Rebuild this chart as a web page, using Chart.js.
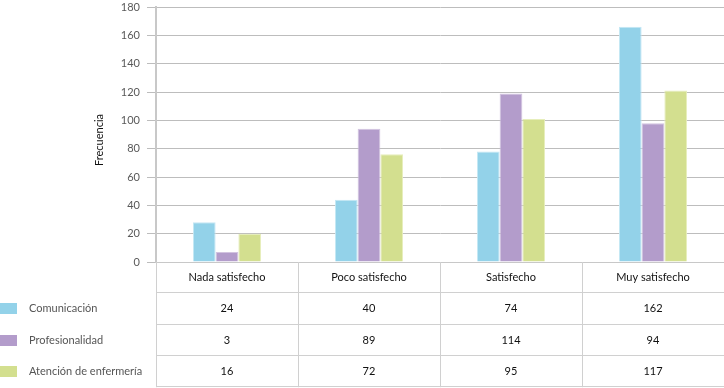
<!DOCTYPE html>
<html>
<head>
<meta charset="utf-8">
<script src="https://cdn.jsdelivr.net/npm/chart.js@4"></script>
<style>
  html, body { margin: 0; padding: 0; background: #fff; }
  #wrap { width: 724px; height: 388px; position: relative; }
</style>
</head>
<body>
<div id="wrap"><canvas id="chart"></canvas></div>
<script>
const categories = ["Nada satisfecho", "Poco satisfecho", "Satisfecho", "Muy satisfecho"];
const seriesNames = ["Comunicación", "Profesionalidad", "Atención de enfermería"];

// bar heights as drawn in the picture
const comunicacion = [28, 44, 78, 166];
const profesionalidad = [7, 94, 119, 98];
const atencion = [20, 76, 101, 121];

// values printed in the data table
const tablaComunicacion = [24, 40, 74, 162];
const tablaProfesionalidad = [3, 89, 114, 94];
const tablaAtencion = [16, 72, 95, 117];

const yTicks = [0, 20, 40, 60, 80, 100, 120, 140, 160, 180];

const colors = ["#93d2e9", "#b39ccb", "#d3df8f"];
const borders = ["#c4e7f4", "#d2c3e0", "#e6eebb"];
const FONT = "Lato, 'Open Sans', sans-serif";

const tableRows = [tablaComunicacion, tablaProfesionalidad, tablaAtencion];

const dataTable = {
  id: "dataTable",
  afterDraw(chart) {
    const ctx = chart.ctx;
    const x = chart.scales.x;
    const area = chart.chartArea;
    const step = x.getPixelForValue(1) - x.getPixelForValue(0);
    const top = area.bottom;
    const rowH = 31.3;
    const bottom = top + rowH * 4;

    ctx.save();
    ctx.strokeStyle = "#d0d0d0";
    ctx.lineWidth = 1;
    // vertical column lines
    for (let i = 0; i <= categories.length; i++) {
      const px = Math.round(x.getPixelForValue(0) - step / 2 + i * step) + 0.5;
      ctx.beginPath();
      ctx.moveTo(px, top);
      ctx.lineTo(px, bottom);
      ctx.stroke();
    }
    // horizontal row lines
    for (let r = 1; r <= 4; r++) {
      const py = Math.round(top + r * rowH) - 0.5;
      ctx.beginPath();
      ctx.moveTo(area.left, py);
      ctx.lineTo(area.right, py);
      ctx.stroke();
    }

    ctx.textAlign = "center";
    ctx.textBaseline = "middle";
    ctx.font = "11px " + FONT;
    ctx.fillStyle = "#111";
    categories.forEach((c, i) => {
      ctx.fillText(c, x.getPixelForValue(i), top + rowH / 2);
    });
    tableRows.forEach((row, r) => {
      row.forEach((v, i) => {
        ctx.fillText(String(v), x.getPixelForValue(i), top + rowH * (r + 1.5));
      });
    });

    // legend keys on the left of the rows
    ctx.textAlign = "left";
    seriesNames.forEach((name, r) => {
      const cy = top + rowH * (r + 1.5);
      ctx.fillStyle = colors[r];
      ctx.fillRect(0, Math.round(cy - 5.5), 17, 11);
      ctx.fillStyle = "#555";
      ctx.fillText(name, 29, cy);
    });

    // axis title
    ctx.save();
    ctx.translate(99, 140);
    ctx.rotate(-Math.PI / 2);
    ctx.textAlign = "center";
    ctx.fillStyle = "#111";
    ctx.fillText("Frecuencia", 0, 0);
    ctx.restore();
    ctx.restore();
  }
};

new Chart(document.getElementById("chart").getContext("2d"), {
  type: "bar",
  data: {
    labels: categories,
    datasets: [
      { label: seriesNames[0], data: comunicacion, backgroundColor: colors[0], borderColor: borders[0], borderWidth: 1 },
      { label: seriesNames[1], data: profesionalidad, backgroundColor: colors[1], borderColor: borders[1], borderWidth: 1 },
      { label: seriesNames[2], data: atencion, backgroundColor: colors[2], borderColor: borders[2], borderWidth: 1 },
    ],
  },
  options: {
    responsive: true,
    maintainAspectRatio: false,
    animation: false,
    layout: { padding: { top: 7, right: 0, bottom: 126, left: 0 } },
    plugins: { legend: { display: false }, tooltip: { enabled: false } },
    datasets: { bar: { barPercentage: 1, categoryPercentage: 0.48 } },
    scales: {
      x: {
        ticks: { display: false },
        grid: { display: false },
        border: { display: true, color: "#c8c8c8", width: 1 },
        afterFit(scale) {
          scale.height = 0;
        },
      },
      y: {
        min: 0,
        max: 180,
        afterBuildTicks(scale) {
          scale.ticks = yTicks.map((v) => ({ value: v }));
        },
        afterFit(scale) {
          scale.width = 156;
          scale.paddingTop = 0;
          scale.paddingBottom = 0;
        },
        ticks: { color: "#595959", font: { family: FONT, size: 11 }, padding: 7 },
        grid: {
          color: "#bdbdbd",
          borderDash: [2, 2],
          tickBorderDash: [],
          tickColor: "#bdbdbd",
          tickLength: 9,
          drawOnChartArea: true,
        },
        border: { display: true, color: "#c8c8c8", width: 2 },
      },
    },
  },
  plugins: [dataTable],
});
</script>
</body>
</html>
